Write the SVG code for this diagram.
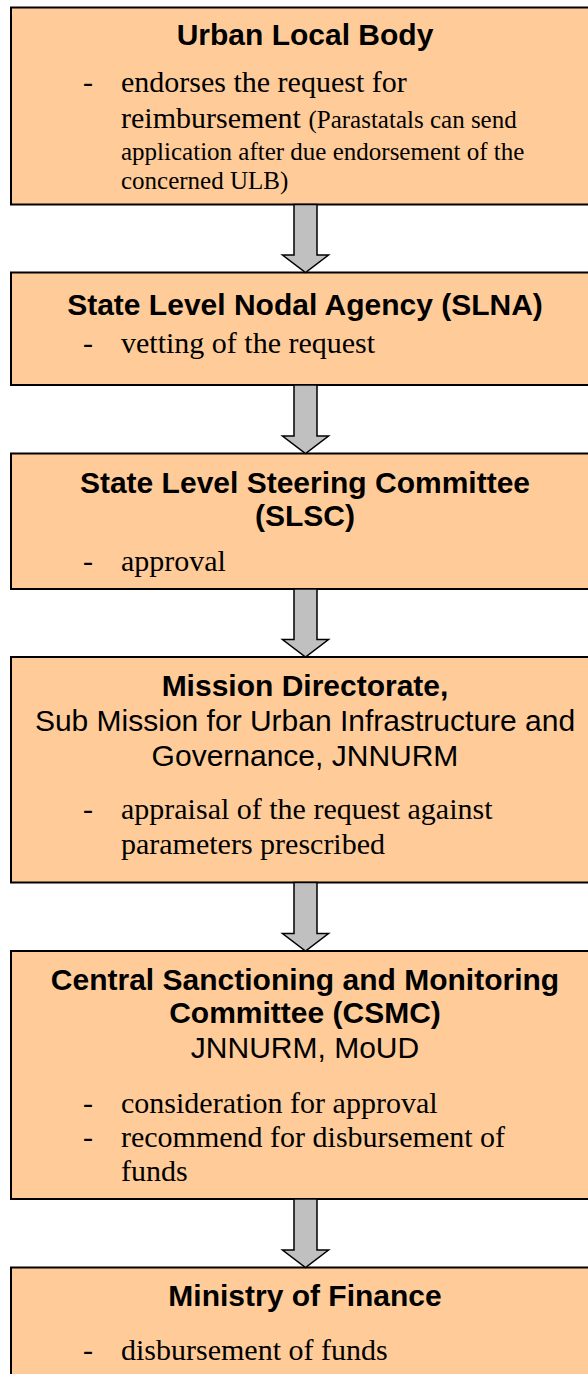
<svg xmlns="http://www.w3.org/2000/svg" width="588" height="1374" viewBox="0 0 588 1374">
  <style>
    .box { fill: #FFCC99; stroke: #000; stroke-width: 2; }
    .arrow { fill: #C0C0C0; stroke: #000; stroke-width: 1.5; stroke-linejoin: miter; }
    .title { font-family: "Liberation Sans", Arial, sans-serif; font-weight: bold; font-size: 30px; fill: #000; text-anchor: middle; }
    .sub { font-family: "Liberation Sans", Arial, sans-serif; font-size: 30px; fill: #000; text-anchor: middle; }
    .item { font-family: "Liberation Serif", "Times New Roman", serif; font-size: 30px; fill: #000; }
    .small { font-size: 25px; }
  </style>
  <rect width="588" height="1374" fill="#fff"/>

  <g id="ulb">
    <rect class="box" x="11" y="7.5" width="600" height="197"/>
    <text class="title" x="305" y="44.5">Urban Local Body</text>
    <text class="item" x="83" y="92">-</text>
    <text class="item" x="121" y="92">endorses the request for</text>
    <text class="item" x="121" y="128">reimbursement <tspan class="small">(Parastatals can send</tspan></text>
    <text class="item small" x="121" y="159.5">application after due endorsement of the</text>
    <text class="item small" x="121" y="189">concerned ULB)</text>
  </g>

  <g id="slna">
    <rect class="box" x="11" y="272.5" width="600" height="112.5"/>
    <text class="title" x="305" y="314.5">State Level Nodal Agency (SLNA)</text>
    <text class="item" x="83" y="353">-</text>
    <text class="item" x="121" y="353">vetting of the request</text>
  </g>

  <g id="slsc">
    <rect class="box" x="11" y="453.5" width="600" height="135.5"/>
    <text class="title" x="305" y="492.5">State Level Steering Committee</text>
    <text class="title" x="305" y="526">(SLSC)</text>
    <text class="item" x="83" y="571">-</text>
    <text class="item" x="121" y="571">approval</text>
  </g>

  <g id="mission-directorate">
    <rect class="box" x="11" y="657" width="600" height="225.5"/>
    <text class="title" x="305" y="696">Mission Directorate,</text>
    <text class="sub" x="305" y="730.5">Sub Mission for Urban Infrastructure and</text>
    <text class="sub" x="305" y="765.5">Governance, JNNURM</text>
    <text class="item" x="83" y="818.5">-</text>
    <text class="item" x="121" y="818.5">appraisal of the request against</text>
    <text class="item" x="121" y="853.5">parameters prescribed</text>
  </g>

  <g id="csmc">
    <rect class="box" x="11" y="951" width="600" height="248"/>
    <text class="title" x="305" y="989.5">Central Sanctioning and Monitoring</text>
    <text class="title" x="305" y="1023">Committee (CSMC)</text>
    <text class="sub" x="305" y="1058">JNNURM, MoUD</text>
    <text class="item" x="83" y="1112.5">-</text>
    <text class="item" x="121" y="1112.5">consideration for approval</text>
    <text class="item" x="83" y="1147">-</text>
    <text class="item" x="121" y="1147">recommend for disbursement of</text>
    <text class="item" x="121" y="1181">funds</text>
  </g>

  <g id="finance">
    <rect class="box" x="11" y="1267.5" width="600" height="130"/>
    <text class="title" x="305" y="1306">Ministry of Finance</text>
    <text class="item" x="83" y="1359.5">-</text>
    <text class="item" x="121" y="1359.5">disbursement of funds</text>
  </g>

  <!-- block arrows: shaft from the lower edge of one box, head tip on the next -->
  <g id="connectors">
    <polygon class="arrow" points="294,204.5 317,204.5 317,255 328.5,255 305.5,272.5 282.5,255 294,255"/>
    <polygon class="arrow" points="294,385 317,385 317,436 328.5,436 305.5,453.5 282.5,436 294,436"/>
    <polygon class="arrow" points="294,589 317,589 317,639.5 328.5,639.5 305.5,657 282.5,639.5 294,639.5"/>
    <polygon class="arrow" points="294,882.5 317,882.5 317,933.5 328.5,933.5 305.5,951 282.5,933.5 294,933.5"/>
    <polygon class="arrow" points="294,1199 317,1199 317,1250 328.5,1250 305.5,1267.5 282.5,1250 294,1250"/>
  </g>
</svg>
